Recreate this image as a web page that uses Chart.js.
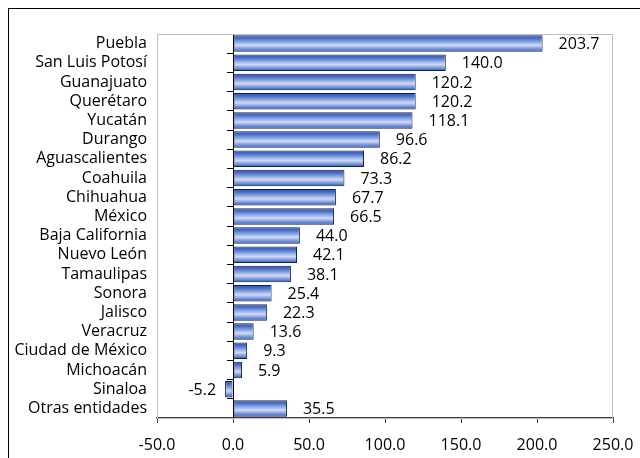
<!DOCTYPE html>
<html lang="es">
<head>
    <meta charset="UTF-8">
    <title>Entidades</title>
    <script src="https://cdn.jsdelivr.net/npm/chart.js"></script>
    <style>
        body {
            margin: 0;
            background: #fff;
            overflow: hidden;
        }
        .frame {
            position: absolute;
            left: 8px;
            top: 8px;
            width: 700px;
            height: 500px;
            border-left: 1px solid #000;
            border-top: 1px solid #000;
        }
        .wrap {
            position: absolute;
            left: 0;
            top: 0;
            width: 640px;
            height: 458px;
        }
    </style>
</head>
<body>
<div class="frame"></div>
<div class="wrap"><canvas id="chart"></canvas></div>

<script>
    const states = ['Puebla', 'San Luis Potosí', 'Guanajuato', 'Querétaro', 'Yucatán', 'Durango',
        'Aguascalientes', 'Coahuila', 'Chihuahua', 'México', 'Baja California', 'Nuevo León',
        'Tamaulipas', 'Sonora', 'Jalisco', 'Veracruz', 'Ciudad de México', 'Michoacán', 'Sinaloa',
        'Otras entidades'];
    const values = [203.7, 140.0, 120.2, 120.2, 118.1, 96.6, 86.2, 73.3, 67.7, 66.5, 44.0, 42.1,
        38.1, 25.4, 22.3, 13.6, 9.3, 5.9, -5.2, 35.5];
    const xMin = -50;
    const xMax = 250;
    const xStep = 50;

    const FONT = { family: '"Open Sans", sans-serif', size: 16 };
    const BAR_PCT = 0.86;

    // vertical gradient for each bar, taken from the category scale
    function barFill(ctx) {
        const chart = ctx.chart;
        const y = chart.scales.y;
        if (!y || ctx.dataIndex === undefined) return '#4a6cc6';
        const cy = y.getPixelForValue(ctx.dataIndex);
        const h = (y.height / states.length) * BAR_PCT;
        if (!isFinite(cy) || !isFinite(h) || h <= 0) return '#4a6cc6';
        const g = chart.ctx.createLinearGradient(0, cy - h / 2, 0, cy + h / 2);
        g.addColorStop(0, '#2c52b4');
        g.addColorStop(0.2, '#4b70ca');
        g.addColorStop(0.6, '#cfdcf5');
        g.addColorStop(0.85, '#6a8ad4');
        g.addColorStop(1, '#2849a3');
        return g;
    }

    const frameBox = {
        id: 'frameBox',
        beforeDatasetsDraw(chart) {
            const a = chart.chartArea;
            const c = chart.ctx;
            c.save();
            c.strokeStyle = '#bfbfbf';
            c.lineWidth = 1;
            c.strokeRect(a.left + 0.5, a.top + 0.5, a.right - a.left - 1, a.bottom - a.top);
            c.restore();
        }
    };

    const valueLabels = {
        id: 'valueLabels',
        afterDatasetsDraw(chart) {
            const c = chart.ctx;
            const meta = chart.getDatasetMeta(0);
            c.save();
            c.font = FONT.size + 'px ' + FONT.family;
            c.fillStyle = '#000';
            c.textBaseline = 'middle';
            meta.data.forEach((bar, i) => {
                const v = values[i];
                if (v >= 0) {
                    c.textAlign = 'left';
                    c.fillText(v.toFixed(1), bar.x + 16, bar.y + 1);
                } else {
                    c.textAlign = 'right';
                    c.fillText(v.toFixed(1), bar.x - 9, bar.y + 1);
                }
            });
            c.restore();
        }
    };

    new Chart(document.getElementById('chart'), {
        type: 'bar',
        data: {
            labels: states,
            datasets: [{
                data: values,
                backgroundColor: barFill,
                borderColor: '#10204c',
                borderWidth: 1,
                borderSkipped: false,
                categoryPercentage: 1,
                barPercentage: BAR_PCT
            }]
        },
        options: {
            indexAxis: 'y',
            responsive: true,
            maintainAspectRatio: false,
            animation: false,
            layout: { padding: { top: 34, right: 27, bottom: 8, left: 0 } },
            plugins: {
                legend: { display: false },
                tooltip: { enabled: false }
            },
            scales: {
                x: {
                    min: xMin,
                    max: xMax,
                    ticks: {
                        stepSize: xStep,
                        color: '#000',
                        font: FONT,
                        padding: 13,
                        maxRotation: 0,
                        callback: v => Number(v).toFixed(1)
                    },
                    grid: { drawOnChartArea: false, tickLength: 5, color: '#404040' },
                    border: { color: '#404040', width: 1.5 },
                    afterFit: s => { s.height = 32; s.paddingLeft = 0; s.paddingRight = 0; }
                },
                y: {
                    ticks: { color: '#000', font: FONT, padding: 10, autoSkip: false },
                    grid: { display: false, drawTicks: false },
                    border: { color: '#bfbfbf' },
                    afterFit: s => { s.width = 157; }
                },
                y0: {
                    type: 'category',
                    axis: 'y',
                    position: { x: 0 },
                    ticks: { display: false },
                    grid: { drawOnChartArea: false, offset: true, tickLength: 6, color: '#000' },
                    border: { color: '#000' }
                }
            }
        },
        plugins: [frameBox, valueLabels]
    });
</script>
</body>
</html>
